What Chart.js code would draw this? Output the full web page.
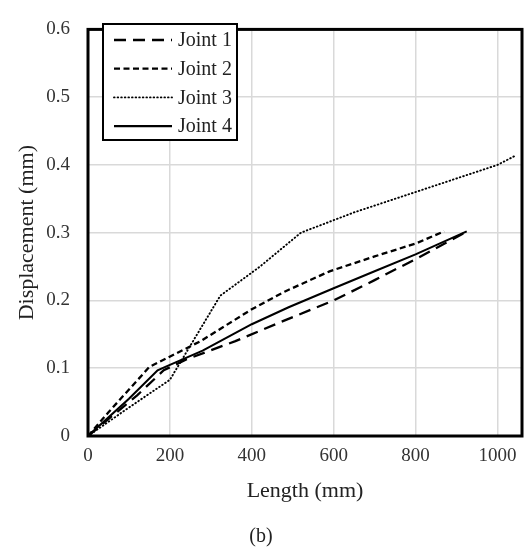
<!DOCTYPE html>
<html><head><meta charset="utf-8">
<script src="https://cdn.jsdelivr.net/npm/chart.js@4"></script>
<style>html,body{margin:0;padding:0;background:#fff;}</style>
</head><body>
<canvas id="c" width="531" height="550"></canvas>
<script>
const seriesNames = ['Joint 1', 'Joint 2', 'Joint 3', 'Joint 4'];
const joint1Length = [0, 60, 120, 185, 240, 360, 470, 600, 700, 800, 920];
const joint1Disp   = [0, 0.030, 0.060, 0.097, 0.113, 0.140, 0.168, 0.200, 0.230, 0.261, 0.300];
const joint2Length = [0, 50, 150, 275, 400, 480, 590, 700, 800, 870];
const joint2Disp   = [0, 0.035, 0.102, 0.140, 0.187, 0.213, 0.243, 0.265, 0.284, 0.302];
const joint3Length = [0, 100, 200, 323, 420, 520, 650, 800, 1000, 1045];
const joint3Disp   = [0, 0.042, 0.083, 0.207, 0.250, 0.300, 0.330, 0.360, 0.400, 0.414];
const joint4Length = [0, 100, 170, 200, 280, 400, 490, 600, 700, 800, 925];
const joint4Disp   = [0, 0.055, 0.097, 0.105, 0.126, 0.165, 0.190, 0.218, 0.243, 0.268, 0.302];
const xTickValues = [0, 200, 400, 600, 800, 1000];
const yTickValues = [0, 0.1, 0.2, 0.3, 0.4, 0.5, 0.6];
const xTitle = 'Length (mm)';
const yTitle = 'Displacement (mm)';
const caption = '(b)';

const FONT = "'Liberation Serif', 'Times New Roman', serif";
const pairs = (xs, ys) => xs.map((x, i) => ({x: x, y: ys[i]}));
const styles = [
  {dash: [12, 7], width: 2.3, cap: 'butt'},
  {dash: [6, 3.5], width: 2.3, cap: 'butt'},
  {dash: [0.6, 3], width: 1.9, cap: 'round'},
  {dash: [], width: 2.1, cap: 'butt'}
];
const allData = [
  pairs(joint1Length, joint1Disp),
  pairs(joint2Length, joint2Disp),
  pairs(joint3Length, joint3Disp),
  pairs(joint4Length, joint4Disp)
];

const boxPlugin = {
  id: 'plotBox',
  afterDatasetsDraw(chart) {
    const {ctx, chartArea: a} = chart;
    ctx.save();
    ctx.strokeStyle = '#000';
    ctx.lineWidth = 3;
    ctx.setLineDash([]);
    ctx.strokeRect(a.left, a.top, a.right - a.left, a.bottom - a.top);
    ctx.restore();
  }
};

const legendPlugin = {
  id: 'insideLegend',
  afterDraw(chart) {
    const ctx = chart.ctx;
    const bx = 103, by = 24, bw = 134, bh = 116;
    ctx.save();
    ctx.fillStyle = '#fff';
    ctx.fillRect(bx, by, bw, bh);
    ctx.strokeStyle = '#000';
    ctx.lineWidth = 2;
    ctx.setLineDash([]);
    ctx.strokeRect(bx, by, bw, bh);
    ctx.font = "20px " + FONT;
    ctx.textBaseline = 'middle';
    ctx.textAlign = 'left';
    chart.data.datasets.forEach((ds, i) => {
      const y = 40 + i * 28.7;
      ctx.beginPath();
      ctx.setLineDash(ds.borderDash || []);
      ctx.lineWidth = ds.borderWidth;
      ctx.lineCap = ds.borderCapStyle || 'butt';
      ctx.strokeStyle = '#000';
      ctx.moveTo(114, y);
      ctx.lineTo(172, y);
      ctx.stroke();
      ctx.setLineDash([]);
      ctx.fillStyle = '#222';
      ctx.fillText(ds.label, 178, y + 1);
    });
    ctx.restore();
  }
};

new Chart(document.getElementById('c'), {
  type: 'scatter',
  data: {
    datasets: seriesNames.map((name, i) => ({
      label: name,
      data: allData[i],
      showLine: true,
      borderColor: '#000',
      backgroundColor: '#000',
      borderWidth: styles[i].width,
      borderDash: styles[i].dash,
      borderCapStyle: styles[i].cap,
      pointRadius: 0,
      pointHoverRadius: 0,
      tension: 0,
      fill: false
    }))
  },
  options: {
    responsive: false,
    animation: false,
    events: [],
    layout: {padding: {top: 14, right: 9, left: 0, bottom: 0}},
    plugins: {
      legend: {display: false},
      tooltip: {enabled: false},
      title: {
        display: true,
        position: 'bottom',
        text: caption,
        color: '#222',
        font: {family: FONT, size: 20, weight: 'normal'},
        padding: {top: 0, bottom: 1}
      }
    },
    scales: {
      x: {
        type: 'linear',
        min: 0,
        max: 1060,
        afterBuildTicks: s => { s.ticks = xTickValues.map(v => ({value: v})); },
        afterFit: s => { s.height = 89; },
        grid: {color: '#d9d9d9', lineWidth: 1.5, drawTicks: false},
        border: {display: false},
        ticks: {
          color: '#333', padding: 9,
          font: {family: FONT, size: 19},
          callback: v => String(v)
        },
        title: {
          display: true, text: xTitle, color: '#222',
          font: {family: FONT, size: 22},
          padding: {top: 0, bottom: 21}
        }
      },
      y: {
        type: 'linear',
        min: 0,
        max: 0.6,
        afterBuildTicks: s => { s.ticks = yTickValues.map(v => ({value: v})); },
        afterFit: s => { s.width = 88; },
        grid: {color: '#d9d9d9', lineWidth: 1.5, drawTicks: false},
        border: {display: false},
        ticks: {
          color: '#333', padding: 18,
          font: {family: FONT, size: 19},
          callback: v => (v === 0 ? '0' : Number(v).toFixed(1))
        },
        title: {
          display: true, text: yTitle, color: '#222',
          font: {family: FONT, size: 22},
          padding: {top: 14, bottom: 0}
        }
      }
    }
  },
  plugins: [boxPlugin, legendPlugin]
});
</script>
</body></html>
